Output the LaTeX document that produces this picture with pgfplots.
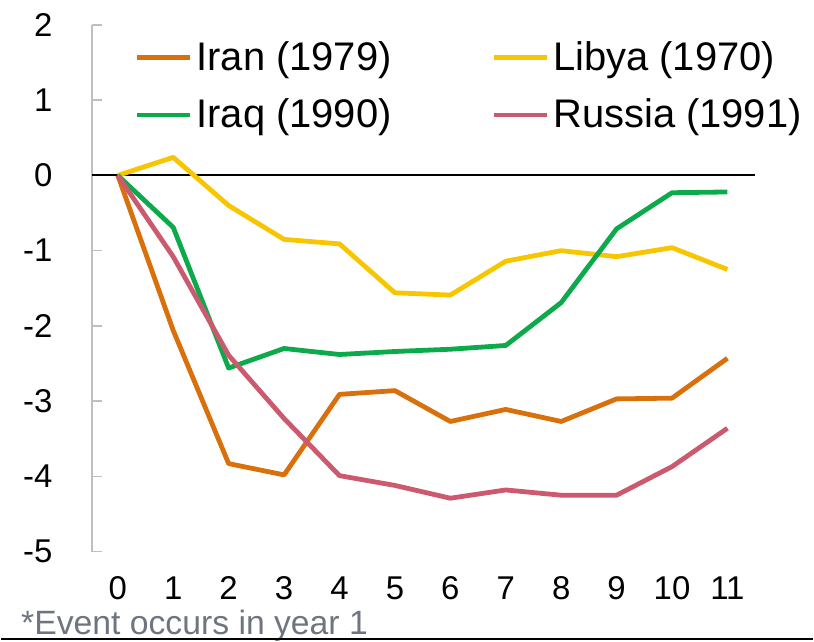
\documentclass[border=0pt]{standalone}
\usepackage{pgfplots}
\pgfplotsset{compat=1.18}
\usepackage{fontspec}
\setmainfont{Liberation Sans}
\definecolor{iran}{HTML}{D8700C}
\definecolor{libya}{HTML}{F8C600}
\definecolor{iraq}{HTML}{0DAA4B}
\definecolor{russia}{HTML}{CC5A6E}
\definecolor{axgray}{HTML}{BFBFBF}
\definecolor{notegray}{HTML}{6E7480}
\begin{document}
\begin{tikzpicture}
\begin{axis}[
  scale only axis,
  width=332.5pt, height=264pt,
  xmin=-0.47, xmax=11.5, ymin=-5, ymax=2,
  clip=false,
  axis y line*=left,
  axis x line*=bottom,
  x axis line style={draw=none},
  y axis line style={-, draw=axgray, line width=0.8pt},
  xtick={0,1,2,3,4,5,6,7,8,9,10,11},
  xticklabels={0,1,2,3,4,5,6,7,8,9,10,11},
  ytick={-5,-4,-3,-2,-1,0,1,2},
  yticklabels={-5,-4,-3,-2,-1,0,1,2},
  xtick style={draw=none},
  ytick style={draw=axgray, line width=0.8pt},
  tick align=inside,
  major tick length=5pt,
  xticklabel style={font=\fontsize{16.5}{16.5}\selectfont, anchor=north, inner sep=0pt, yshift=-12.5pt},
  yticklabel style={font=\fontsize{16.5}{16.5}\selectfont, anchor=east, inner sep=0pt, xshift=-19.5pt},
  legend columns=2,
  legend cell align=left,
  legend style={draw=none, fill=none, at={(rel axis cs:0.055,0.985)}, anchor=north west,
    font=\fontsize{20}{20}\selectfont, row sep=9pt,
    /tikz/every even column/.append style={column sep=48pt}},
  legend image code/.code={\draw[#1, line width=2.5pt] (0pt,0pt) -- (26.5pt,0pt);},
]
\addplot[black, line width=1pt, forget plot] coordinates {(-0.47,0) (11.5,0)};
\addplot[iran, line width=2.4pt, line join=round] coordinates {
 (0,0) (1,-2.06) (2,-3.83) (3,-3.98) (4,-2.91) (5,-2.86) (6,-3.27) (7,-3.11) (8,-3.27) (9,-2.97) (10,-2.96) (11,-2.43)};
\addlegendentry{Iran (1979)}
\addplot[libya, line width=2.4pt, line join=round] coordinates {
 (0,0) (1,0.24) (2,-0.40) (3,-0.85) (4,-0.91) (5,-1.56) (6,-1.59) (7,-1.14) (8,-1.00) (9,-1.08) (10,-0.96) (11,-1.25)};
\addlegendentry{Libya (1970)}
\addplot[iraq, line width=2.4pt, line join=round] coordinates {
 (0,0) (1,-0.69) (2,-2.56) (3,-2.30) (4,-2.38) (5,-2.34) (6,-2.31) (7,-2.26) (8,-1.69) (9,-0.71) (10,-0.23) (11,-0.22)};
\addlegendentry{Iraq (1990)}
\addplot[russia, line width=2.4pt, line join=round] coordinates {
 (0,0) (1,-1.08) (2,-2.39) (3,-3.23) (4,-3.99) (5,-4.12) (6,-4.29) (7,-4.18) (8,-4.25) (9,-4.25) (10,-3.87) (11,-3.36)};
\addlegendentry{Russia (1991)}
\node[anchor=base west, inner sep=0pt, text=notegray, font=\fontsize{16.9}{16.9}\selectfont] at (rel axis cs:-0.107,-0.157) {*Event occurs in year 1};
\path (rel axis cs:-0.1368,-0.1686) rectangle (rel axis cs:1.0872,1.0473);
\draw[black, line width=1pt] (rel axis cs:-0.1368,-0.1656) -- (rel axis cs:1.0872,-0.1656);
\end{axis}
\end{tikzpicture}
\end{document}
